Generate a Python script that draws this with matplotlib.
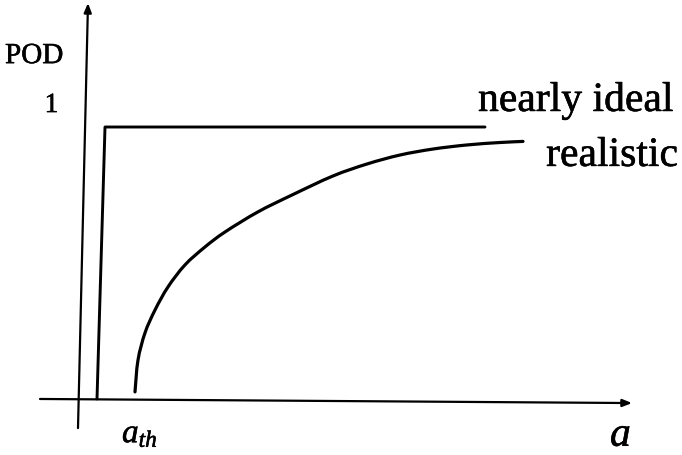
import matplotlib
matplotlib.use("Agg")
import matplotlib.pyplot as plt
import matplotlib.patheffects as pe
from matplotlib.path import Path
from matplotlib.patches import PathPatch
import numpy as np

plt.rcParams['font.family'] = ['Liberation Serif', 'DejaVu Serif']
plt.rcParams['mathtext.fontset'] = 'custom'
plt.rcParams['mathtext.rm'] = 'Liberation Serif'
plt.rcParams['mathtext.it'] = 'Liberation Serif:italic'

# Nearly ideal inspection: POD jumps from 0 to 1 at the threshold size
ideal_a = [0.19, 0.27, 4.07]
ideal_pod = [0.0, 1.0, 1.0]

# Realistic inspection: POD grows gradually with flaw size a
real_a = [0.57, 0.60, 0.67, 0.77, 0.90, 1.07, 1.27, 1.47, 1.80, 2.14,
          2.55, 2.89, 3.22, 3.55, 3.89, 4.22, 4.45]
real_pod = [0.026, 0.143, 0.243, 0.327, 0.412, 0.493, 0.559, 0.614, 0.688, 0.750,
            0.820, 0.864, 0.897, 0.919, 0.934, 0.943, 0.947]

curve_labels = ["nearly ideal", "realistic"]
y_label = "POD"
y_tick = "1"
x_label = "a"
threshold_label = r"$a_{th}$"

fig = plt.figure(figsize=(6.82, 4.55), dpi=100)
ax = fig.add_axes([0, 0, 1, 1])
ax.set_xlim(-0.78, 6.04)
ax.set_ylim(-0.206, 1.467)
ax.axis('off')


def smooth_path(xs, ys):
    """Catmull-Rom spline through the points, expressed as cubic Bezier segments."""
    pts = np.column_stack([xs, ys])
    verts = [pts[0]]
    codes = [Path.MOVETO]
    n = len(pts)
    for i in range(n - 1):
        p0 = pts[i - 1] if i > 0 else pts[i]
        p1 = pts[i]
        p2 = pts[i + 1]
        p3 = pts[i + 2] if i + 2 < n else pts[i + 1]
        c1 = p1 + (p2 - p0) / 6.0
        c2 = p2 - (p3 - p1) / 6.0
        verts += [c1, c2, p2]
        codes += [Path.CURVE4] * 3
    return Path(verts, codes)


# axes with arrowheads
arrow_kw = dict(arrowstyle='-|>,head_length=0.55,head_width=0.22', lw=1.6,
                color='black', shrinkA=0, shrinkB=0)
ax.annotate('', xy=(5.54, -0.015), xytext=(-0.38, 0.0), arrowprops=arrow_kw)
ax.annotate('', xy=(0.10, 1.456), xytext=(0.0, -0.107), arrowprops=arrow_kw)

# curves
ax.plot(ideal_a, ideal_pod, color='black', lw=2.1, solid_joinstyle='round',
        solid_capstyle='round')
ax.add_patch(PathPatch(smooth_path(real_a, real_pod), facecolor='none',
                       edgecolor='black', lw=2.3, capstyle='round'))

# labels, slightly thickened strokes
heavy = [pe.withStroke(linewidth=0.4, foreground='black')]
ax.text(-0.73, 1.235, y_label, fontsize=21, ha='left', va='baseline', path_effects=heavy)
ax.text(-0.265, 1.055, y_tick, fontsize=20, ha='center', va='baseline', path_effects=heavy)
ax.text(4.00, 1.059, curve_labels[0], fontsize=30, ha='left', va='baseline', path_effects=heavy)
ax.text(6.00, 0.857, curve_labels[1], fontsize=30, ha='right', va='baseline', path_effects=heavy)
ax.text(5.32, -0.172, x_label, fontsize=30, style='italic', ha='left', va='baseline',
        path_effects=heavy)
ax.text(0.44, -0.160, threshold_label, fontsize=24, ha='left', va='baseline', path_effects=heavy)

fig.savefig('out.png', dpi=100)
